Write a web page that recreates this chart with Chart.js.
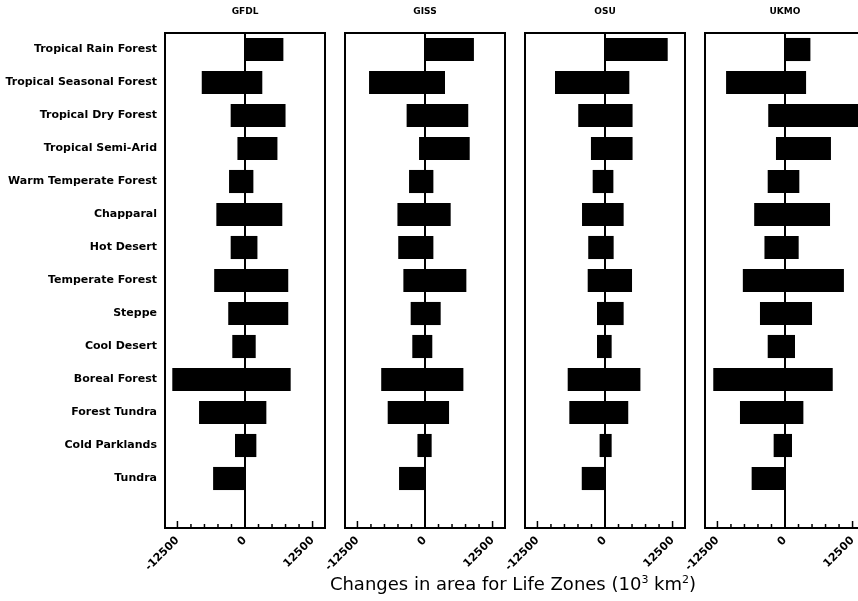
<!DOCTYPE html>
<html>
<head>
<meta charset="utf-8">
<script src="https://cdn.jsdelivr.net/npm/chart.js@4/dist/chart.umd.min.js"></script>
<style>
    html, body { margin: 0; padding: 0; background: #fff; }
    body { width: 858px; height: 601px; position: relative; overflow: hidden; font-family: "DejaVu Sans", sans-serif; }
    .panel { position: absolute; top: 0; height: 601px; }
    .model { position: absolute; top: 6px; font-size: 9px; font-weight: bold; color: #000; transform: translateX(-50%); }
    #xTitle { position: absolute; top: 573px; left: 513px; transform: translateX(-50%); font-size: 18px; color: #000; white-space: nowrap; }
</style>
</head>
<body>
<div class="panel" id="p0" style="left:0;width:332px"><canvas id="c0"></canvas></div>
<div class="panel" id="p1" style="left:315px;width:197px"><canvas id="c1"></canvas></div>
<div class="panel" id="p2" style="left:495px;width:197px"><canvas id="c2"></canvas></div>
<div class="panel" id="p3" style="left:675px;width:197px"><canvas id="c3"></canvas></div>
<div class="model" style="left:245px">GFDL</div>
<div class="model" style="left:425px">GISS</div>
<div class="model" style="left:605px">OSU</div>
<div class="model" style="left:785px">UKMO</div>
<div id="xTitle">Changes in area for Life Zones (10<sup style="font-size:11px">3</sup> km<sup style="font-size:11px">2</sup>)</div>
<script>
(function () {
    const zones = [
        "Tropical Rain Forest", "Tropical Seasonal Forest", "Tropical Dry Forest",
        "Tropical Semi-Arid", "Warm Temperate Forest", "Chapparal", "Hot Desert",
        "Temperate Forest", "Steppe", "Cool Desert", "Boreal Forest",
        "Forest Tundra", "Cold Parklands", "Tundra"
    ];
    const models = ["GFDL", "GISS", "OSU", "UKMO"];

    // losses (negative) and gains (positive), 10^3 km2
    const gfdlLoss = [0, -8000, -2650, -1400, -2950, -5300, -2650, -5700, -3100, -2350, -13450, -8500, -1850, -5900];
    const gfdlGain = [7100, 3200, 7500, 6000, 1550, 6900, 2300, 8000, 8000, 1980, 8450, 3950, 2100, 0];
    const gissLoss = [0, -10350, -3400, -1100, -2950, -5100, -4950, -4000, -2650, -2350, -8100, -6900, -1400, -4800];
    const gissGain = [9050, 3700, 8000, 8270, 1550, 4750, 1550, 7650, 2900, 1350, 7100, 4450, 1230, 0];
    const osuLoss = [0, -9250, -4950, -2600, -2280, -4250, -3100, -3200, -1480, -1480, -6900, -6600, -1000, -4300];
    const osuGain = [11600, 4500, 5100, 5100, 1550, 3450, 1600, 5000, 3450, 1230, 6550, 4300, 1230, 0];
    const ukmoLoss = [0, -10900, -3100, -1670, -3200, -5700, -3800, -7800, -4630, -3200, -13270, -8330, -2100, -6170];
    const ukmoGain = [4700, 3900, 13800, 8500, 2650, 8330, 2530, 10900, 5000, 1850, 8830, 3400, 1300, 0];

    const xMin = -14800;
    const xMax = 14800;
    const xTicks = [-12500, -10000, -7500, -5000, -2500, 0, 2500, 5000, 7500, 10000, 12500];
    const xLabelled = [-12500, 0, 12500];

    const losses = [gfdlLoss, gissLoss, osuLoss, ukmoLoss];
    const gains = [gfdlGain, gissGain, osuGain, ukmoGain];

    // box round the plot, inward tick marks on the bottom edge
    const framePlugin = {
        id: "frame",
        afterDraw(chart) {
            const { ctx, chartArea: a } = chart;
            const xs = chart.scales.x;
            ctx.save();
            ctx.strokeStyle = "#000";
            ctx.lineWidth = 2;
            ctx.strokeRect(a.left, a.top, a.right - a.left, a.bottom - a.top);
            ctx.lineWidth = 1.5;
            xs.ticks.forEach(t => {
                const px = xs.getPixelForValue(t.value);
                const len = xLabelled.includes(t.value) ? 7 : 4;
                ctx.beginPath();
                ctx.moveTo(px, a.bottom);
                ctx.lineTo(px, a.bottom - len);
                ctx.stroke();
            });
            ctx.restore();
        }
    };

    const makeChart = (i) => {
        const first = i === 0;
        const yScale = {
            display: first,
            border: { display: false },
            grid: { display: false, drawTicks: false },
            ticks: {
                padding: 8,
                autoSkip: false,
                color: "#000",
                font: { family: "DejaVu Sans", size: 11, weight: "bold" }
            }
        };
        if (first) yScale.afterFit = s => { s.width = 165; };

        new Chart(document.getElementById("c" + i), {
            type: "bar",
            data: {
                labels: zones.concat([""]),
                datasets: [{
                    label: models[i],
                    data: zones.map((z, k) => [losses[i][k], gains[i][k]]),
                    backgroundColor: "#000",
                    borderWidth: 0,
                    barPercentage: 0.7,
                    categoryPercentage: 1
                }]
            },
            options: {
                indexAxis: "y",
                responsive: true,
                maintainAspectRatio: false,
                animation: false,
                layout: { padding: { left: first ? 0 : 30, right: 7, top: 33, bottom: 0 } },
                plugins: {
                    legend: { display: false },
                    tooltip: { enabled: false }
                },
                scales: {
                    x: {
                        type: "linear",
                        min: xMin,
                        max: xMax,
                        afterBuildTicks: s => { s.ticks = xTicks.map(v => ({ value: v })); },
                        afterFit: s => { s.height = 73; },
                        border: { display: false },
                        grid: {
                            drawTicks: false,
                            color: c => c.tick && c.tick.value === 0 ? "#000" : "rgba(0,0,0,0)",
                            lineWidth: 2
                        },
                        ticks: {
                            autoSkip: false,
                            minRotation: 45,
                            maxRotation: 45,
                            padding: 6,
                            color: "#000",
                            font: { family: "DejaVu Sans", size: 11, weight: "bold" },
                            callback: v => xLabelled.includes(v) ? String(v) : ""
                        }
                    },
                    y: yScale
                }
            },
            plugins: [framePlugin]
        });
    };

    models.forEach((m, i) => makeChart(i));
})();
</script>
</body>
</html>
